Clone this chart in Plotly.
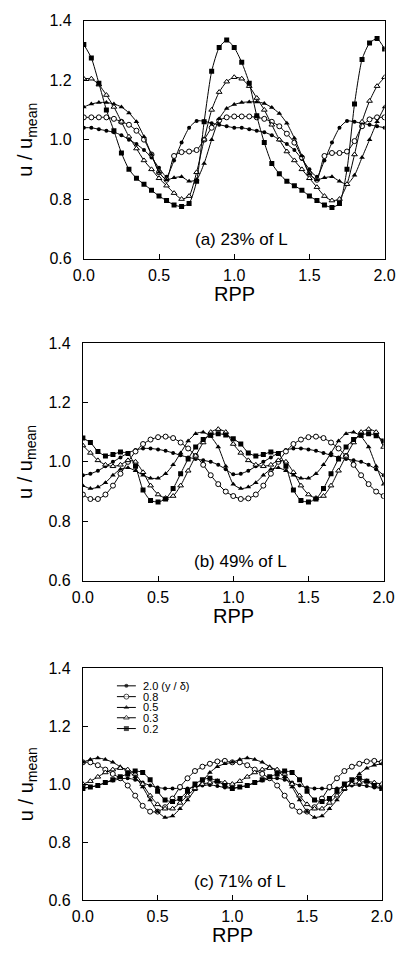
import plotly.graph_objects as go

RPP = [0.0, 0.05, 0.1, 0.15, 0.2, 0.25, 0.3, 0.35, 0.4, 0.45, 0.5, 0.55, 0.6, 0.65, 0.7, 0.75, 0.8, 0.85, 0.9, 0.95,
       1.0, 1.05, 1.1, 1.15, 1.2, 1.25, 1.3, 1.35, 1.4, 1.45, 1.5, 1.55, 1.6, 1.65, 1.7, 1.75, 1.8, 1.85, 1.9, 1.95, 2.0]

SERIES = ["2.0 (y / \u03b4)", "0.8", "0.5", "0.3", "0.2"]

# Panel (a) 23% of L
A_20 = [1.04, 1.04, 1.035, 1.03, 1.025, 1.015, 1.0, 0.985, 0.965, 0.94, 0.905, 0.875, 0.93, 0.99, 1.04, 1.063, 1.062, 1.055, 1.05, 1.045,
        1.04, 1.04, 1.035, 1.03, 1.025, 1.015, 1.0, 0.985, 0.965, 0.935, 0.9, 0.875, 0.93, 0.99, 1.04, 1.063, 1.06, 1.055, 1.05, 1.045, 1.04]
A_08 = [1.075, 1.075, 1.075, 1.075, 1.07, 1.06, 1.05, 1.03, 1.0, 0.95, 0.89, 0.865, 0.945, 0.958, 0.96, 0.965, 1.0, 1.04, 1.065, 1.075,
        1.078, 1.078, 1.078, 1.075, 1.07, 1.06, 1.045, 1.02, 0.99, 0.94, 0.885, 0.865, 0.945, 0.955, 0.955, 0.96, 0.995, 1.045, 1.068, 1.075, 1.075]
A_05 = [1.11, 1.12, 1.125, 1.125, 1.12, 1.11, 1.09, 1.06, 1.01, 0.95, 0.89, 0.865, 0.872, 0.875, 0.86, 0.865, 0.92, 1.0, 1.07, 1.105,
        1.118, 1.125, 1.127, 1.127, 1.122, 1.108, 1.088, 1.055, 1.005, 0.945, 0.885, 0.865, 0.872, 0.875, 0.86, 0.85, 0.88, 0.94, 1.0, 1.06, 1.11]
A_03 = [1.205, 1.205, 1.185, 1.15, 1.11, 1.06, 1.01, 0.97, 0.93, 0.9, 0.87, 0.845, 0.82, 0.8, 0.81, 0.89, 1.0, 1.1, 1.16, 1.195,
        1.21, 1.205, 1.18, 1.14, 1.1, 1.05, 1.0, 0.96, 0.93, 0.9, 0.87, 0.84, 0.81, 0.795, 0.8, 0.85, 0.95, 1.06, 1.13, 1.18, 1.21]
A_02 = [1.32, 1.275, 1.19, 1.10, 1.03, 0.955, 0.90, 0.87, 0.85, 0.83, 0.81, 0.795, 0.78, 0.775, 0.785, 0.86, 1.06, 1.23, 1.31, 1.335,
        1.31, 1.26, 1.19, 1.08, 0.99, 0.92, 0.885, 0.86, 0.845, 0.83, 0.81, 0.795, 0.78, 0.772, 0.785, 0.90, 1.12, 1.27, 1.325, 1.34, 1.305]

# Panel (b) 49% of L
B_20 = [0.955, 0.96, 0.97, 0.985, 1.0, 1.015, 1.03, 1.04, 1.045, 1.045, 1.042, 1.037, 1.03, 1.022, 1.015, 1.01, 1.005, 1.0, 0.99, 0.975,
        0.958, 0.96, 0.97, 0.985, 1.0, 1.015, 1.03, 1.04, 1.045, 1.045, 1.042, 1.037, 1.03, 1.022, 1.015, 1.01, 1.005, 1.0, 0.99, 0.975, 0.955]
B_08 = [0.89, 0.875, 0.875, 0.89, 0.92, 0.96, 1.0, 1.035, 1.06, 1.075, 1.083, 1.085, 1.08, 1.065, 1.045, 1.02, 0.99, 0.955, 0.925, 0.9,
        0.885, 0.875, 0.877, 0.89, 0.92, 0.96, 1.0, 1.035, 1.06, 1.075, 1.083, 1.085, 1.08, 1.065, 1.045, 1.02, 0.99, 0.955, 0.925, 0.9, 0.885]
B_05 = [0.92, 0.91, 0.915, 0.93, 0.955, 0.975, 0.98, 0.97, 0.955, 0.945, 0.945, 0.96, 0.99, 1.03, 1.07, 1.095, 1.10, 1.085, 1.05, 0.985,
        0.925, 0.91, 0.915, 0.93, 0.955, 0.975, 0.98, 0.97, 0.955, 0.945, 0.945, 0.96, 0.99, 1.03, 1.07, 1.095, 1.10, 1.085, 1.05, 0.985, 0.925]
B_03 = [1.055, 1.03, 1.005, 0.99, 0.985, 0.99, 1.005, 1.0, 0.965, 0.92, 0.89, 0.878, 0.885, 0.92, 0.97, 1.02, 1.065, 1.1, 1.11, 1.1,
        1.06, 1.03, 1.005, 0.99, 0.985, 0.99, 1.005, 1.0, 0.965, 0.92, 0.89, 0.878, 0.885, 0.92, 0.97, 1.02, 1.065, 1.1, 1.11, 1.1, 1.05]
B_02 = [1.08, 1.065, 1.035, 1.02, 1.025, 1.033, 1.028, 0.985, 0.905, 0.87, 0.865, 0.875, 0.91, 0.96, 1.01, 1.05, 1.075, 1.09, 1.095, 1.09,
        1.078, 1.06, 1.03, 1.02, 1.025, 1.033, 1.028, 0.985, 0.905, 0.87, 0.865, 0.875, 0.91, 0.96, 1.01, 1.05, 1.075, 1.09, 1.095, 1.088, 1.07]

# Panel (c) 71% of L
C_20 = [0.985, 0.99, 0.995, 1.005, 1.012, 1.018, 1.02, 1.015, 1.005, 0.995, 0.988, 0.985, 0.985, 0.985, 0.985, 0.99, 0.995, 0.997, 0.993, 0.988,
        0.985, 0.99, 0.995, 1.005, 1.012, 1.018, 1.02, 1.015, 1.005, 0.995, 0.988, 0.985, 0.985, 0.985, 0.985, 0.99, 0.995, 0.997, 0.993, 0.988, 0.985]
C_08 = [1.075, 1.075, 1.065, 1.05, 1.035, 1.02, 0.995, 0.96, 0.925, 0.905, 0.905, 0.92, 0.95, 0.99, 1.02, 1.045, 1.06, 1.07, 1.078, 1.08,
        1.075, 1.075, 1.065, 1.05, 1.035, 1.02, 0.995, 0.96, 0.925, 0.905, 0.905, 0.92, 0.95, 0.99, 1.02, 1.045, 1.06, 1.07, 1.078, 1.08, 1.075]
C_05 = [1.075, 1.085, 1.09, 1.085, 1.075, 1.06, 1.045, 1.025, 0.99, 0.945, 0.905, 0.885, 0.89, 0.915, 0.945, 0.98, 1.01, 1.04, 1.06, 1.07,
        1.075, 1.085, 1.09, 1.085, 1.075, 1.06, 1.045, 1.025, 0.99, 0.945, 0.905, 0.885, 0.89, 0.915, 0.945, 0.98, 1.01, 1.035, 1.055, 1.065, 1.07]
C_03 = [1.0, 1.01, 1.025, 1.04, 1.05, 1.055, 1.05, 1.035, 1.0, 0.96, 0.93, 0.915, 0.915, 0.935, 0.96, 0.985, 1.0, 1.005, 1.01, 1.005,
        1.0, 1.01, 1.025, 1.04, 1.05, 1.055, 1.05, 1.035, 1.0, 0.96, 0.93, 0.915, 0.915, 0.935, 0.96, 0.985, 1.0, 1.005, 1.01, 1.005, 1.0]
C_02 = [0.985, 0.99, 0.995, 1.005, 1.015, 1.025, 1.035, 1.045, 1.04, 1.015, 0.975, 0.945, 0.94, 0.95, 0.975, 1.0, 1.015, 1.02, 1.01, 0.995,
        0.985, 0.99, 0.995, 1.005, 1.015, 1.025, 1.035, 1.045, 1.04, 1.015, 0.975, 0.945, 0.94, 0.95, 0.975, 1.0, 1.015, 1.02, 1.01, 0.995, 0.985]

PANELS = [
    ("(a) 23% of L", [A_20, A_08, A_05, A_03, A_02]),
    ("(b) 49% of L", [B_20, B_08, B_05, B_03, B_02]),
    ("(c) 71% of L", [C_20, C_08, C_05, C_03, C_02]),
]

X_TICKS = [0.0, 0.5, 1.0, 1.5, 2.0]
Y_TICKS = [0.6, 0.8, 1.0, 1.2, 1.4]

W, H = 406, 964
FONT = "Liberation Sans, Arial, sans-serif"

MARKERS = [
    dict(symbol="circle", size=4, color="black", line=dict(width=0)),
    dict(symbol="circle", size=5, color="white", line=dict(color="black", width=1)),
    dict(symbol="triangle-up", size=5, color="black", line=dict(width=0)),
    dict(symbol="triangle-up", size=5, color="white", line=dict(color="black", width=1)),
    dict(symbol="square", size=5, color="black", line=dict(width=0)),
]

# panel pixel boxes: (left, right, top, bottom)
BOXES = [(77, 395, 13, 255), (76, 394, 341, 583), (76, 392, 672, 908)]

fig = go.Figure()
layout = dict(width=W, height=H, margin=dict(l=0, r=0, t=0, b=0),
              paper_bgcolor="white", plot_bgcolor="rgba(0,0,0,0)", showlegend=False,
              font=dict(family=FONT, color="black"))
annotations = []

for i, (label, series) in enumerate(PANELS):
    n = i + 1
    xa = "x" if n == 1 else f"x{n}"
    ya = "y" if n == 1 else f"y{n}"
    l, r, t, b = BOXES[i]
    for k, ys in enumerate(series):
        fig.add_trace(go.Scatter(x=RPP, y=ys, mode="lines+markers", xaxis=xa, yaxis=ya,
                                 line=dict(color="black", width=1, shape="spline", smoothing=0.6),
                                 marker=MARKERS[k], name=SERIES[k], cliponaxis=True))
    axcommon = dict(showline=True, linecolor="black", linewidth=1, mirror=True,
                    ticks="inside", ticklen=5, tickcolor="black", showgrid=False, zeroline=False,
                    tickfont=dict(family=FONT, size=16, color="black"))
    layout["xaxis" if n == 1 else f"xaxis{n}"] = dict(
        axcommon, domain=[l / W, r / W], range=[0, 2], tickvals=X_TICKS,
        ticktext=[f"{v:.1f}" for v in X_TICKS], anchor=ya, ticklabelstandoff=2)
    layout["yaxis" if n == 1 else f"yaxis{n}"] = dict(
        axcommon, domain=[1 - b / H, 1 - t / H], range=[0.6, 1.4], tickvals=Y_TICKS,
        ticktext=[f"{v:.1f}" for v in Y_TICKS], anchor=xa, ticklabelstandoff=8)
    # axis titles and panel label
    annotations.append(dict(xref="paper", yref="paper", x=(l + r) / 2 / W, y=1 - (b + 36) / H,
                            text="RPP", showarrow=False, font=dict(size=20), xanchor="center", yanchor="middle"))
    annotations.append(dict(xref="paper", yref="paper", x=17 / W, y=1 - (t + b) / 2 / H,
                            text="u / u<sub>mean</sub>", showarrow=False, textangle=-90,
                            font=dict(size=20), xanchor="center", yanchor="middle"))
    annotations.append(dict(xref=xa, yref=ya, x=1.05, y=0.665, text=label, showarrow=False,
                            font=dict(size=17), xanchor="center", yanchor="middle"))

# legend drawn in panel (c) on a hidden pixel-space axis
layout["xaxis4"] = dict(domain=[0, 1], range=[0, W], visible=False, fixedrange=True, anchor="y4")
layout["yaxis4"] = dict(domain=[0, 1], range=[H, 0], visible=False, fixedrange=True, anchor="x4")
LEG_ROWS = [690, 701, 712, 722.5, 733.5]
for k in range(5):
    yy = LEG_ROWS[k]
    m = dict(MARKERS[k])
    m["size"] = [0, m["size"], 0]
    fig.add_trace(go.Scatter(x=[112, 122, 132], y=[yy, yy, yy], mode="lines+markers", xaxis="x4", yaxis="y4",
                             line=dict(color="black", width=1), marker=m, hoverinfo="skip"))
    annotations.append(dict(xref="x4", yref="y4", x=137, y=yy, text=SERIES[k], showarrow=False,
                            font=dict(size=11), xanchor="left", yanchor="middle"))

layout["annotations"] = annotations
fig.update_layout(**layout)
fig.write_html("out.html", config={"displayModeBar": False},
               post_script="document.body.style.margin='0px';document.body.style.overflow='hidden';")
